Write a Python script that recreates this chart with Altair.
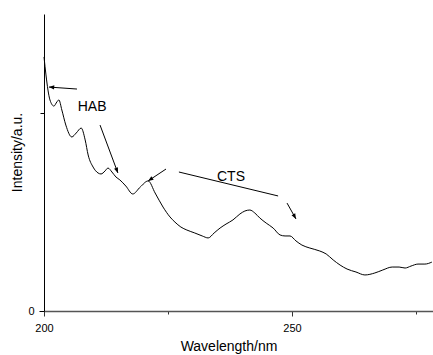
import altair as alt
import pandas as pd

# Spectrum
wavelength = [200.0, 200.4, 200.8, 201.2, 202.0, 202.6, 203.0, 203.6, 204.4, 205.6,
              206.5, 207.5, 208.3, 208.9, 209.9, 210.9, 211.5, 212.3, 212.9, 213.7,
              214.5, 215.3, 216.5, 217.9, 219.4, 221.0, 222.4, 224.0, 225.4, 226.4,
              227.6, 228.8, 230.4, 231.9, 233.1, 234.3, 235.5, 236.7, 238.1, 239.5,
              240.5, 241.5, 242.5, 243.5, 244.8, 246.2, 247.6, 248.6, 249.6, 250.8,
              252.0, 253.6, 255.6, 256.9, 258.3, 259.7, 261.1, 262.9, 264.7, 266.7,
              268.3, 270.2, 271.6, 272.8, 274.0, 275.4, 276.8, 278.2]
intensity = [1.283, 1.192, 1.116, 1.066, 1.035, 1.056, 1.066, 1.015, 0.939, 0.879,
             0.899, 0.924, 0.864, 0.788, 0.727, 0.697, 0.692, 0.707, 0.722, 0.702,
             0.677, 0.662, 0.631, 0.591, 0.626, 0.657, 0.596, 0.525, 0.475, 0.449,
             0.424, 0.409, 0.394, 0.379, 0.369, 0.394, 0.419, 0.439, 0.460, 0.490,
             0.505, 0.510, 0.495, 0.470, 0.444, 0.419, 0.384, 0.379, 0.379, 0.354,
             0.333, 0.318, 0.303, 0.288, 0.258, 0.232, 0.212, 0.197, 0.182, 0.192,
             0.207, 0.222, 0.222, 0.217, 0.227, 0.237, 0.237, 0.247]

# Annotation segments (tail -> head) and whether they carry an arrowhead
seg_x1 = [206.65, 211.3, 224.6, 227.2, 249.0]
seg_y1 = [1.121, 0.939, 0.717, 0.702, 0.545]
seg_x2 = [201.0, 214.9, 221.0, 247.2, 250.8]
seg_y2 = [1.131, 0.697, 0.657, 0.581, 0.465]
head_angle = [274, 159, 236, 0, 151]
has_head = [True, True, True, False, True]

label_text = ["HAB", "CTS"]
label_x = [209.7, 237.7]
label_y = [1.030, 0.677]

x_ticks = [200, 225, 250, 275]
y_ticks = [0, 1]

FONT = "Liberation Sans"

spec = pd.DataFrame({"wavelength": wavelength, "intensity": intensity})
segs = pd.DataFrame({"x1": seg_x1, "y1": seg_y1, "x2": seg_x2, "y2": seg_y2,
                     "angle": head_angle, "head": has_head})
heads = segs[segs["head"]]
labels = pd.DataFrame({"text": label_text, "x": label_x, "y": label_y})

xscale = alt.Scale(domain=[200, 278.43], nice=False, zero=False)
yscale = alt.Scale(domain=[0, 1.5], nice=False)

xaxis = alt.Axis(
    title="Wavelength/nm", values=x_ticks, grid=False, labelFlush=False,
    labelExpr="datum.value % 50 == 0 ? datum.label : ''",
    tickSize={"condition": {"test": "datum.value % 50 == 0", "value": 5}, "value": 3},
    domainColor="#555555", domainWidth=1.5, tickColor="#333333",
    labelFont=FONT, labelFontSize=11, labelColor="black", labelPadding=6,
    titleFont=FONT, titleFontSize=14, titleFontWeight="normal", titleColor="black",
    titlePadding=6, titleX=184.5,
)
yaxis = alt.Axis(
    title="Intensity/a.u.", values=y_ticks, grid=False, labelFlush=False,
    labelExpr="datum.value == 0 ? '0' : ''",
    tickSize={"condition": {"test": "datum.value == 0", "value": 5}, "value": 4},
    domainColor="black", domainWidth=1, tickColor="black",
    labelFont=FONT, labelFontSize=11, labelColor="black", labelPadding=5,
    titleFont=FONT, titleFontSize=14, titleFontWeight="normal", titleColor="black",
    titlePadding=3, titleY=138,
)

line = alt.Chart(spec).mark_line(color="black", strokeWidth=1, interpolate="monotone").encode(
    x=alt.X("wavelength:Q", scale=xscale, axis=xaxis),
    y=alt.Y("intensity:Q", scale=yscale, axis=yaxis),
)

rules = alt.Chart(segs).mark_rule(color="black", strokeWidth=1).encode(
    x=alt.X("x1:Q", scale=xscale), y=alt.Y("y1:Q", scale=yscale),
    x2="x2:Q", y2="y2:Q",
)

arrowheads = alt.Chart(heads).mark_point(
    shape="M0,0 L0.4,1 L-0.4,1 Z", filled=True, color="black", opacity=1, size=110,
).encode(
    x=alt.X("x2:Q", scale=xscale), y=alt.Y("y2:Q", scale=yscale),
    angle=alt.Angle("angle:Q", scale=None),
)

texts = alt.Chart(labels).mark_text(
    font=FONT, fontSize=14, color="black", align="center", baseline="middle",
).encode(
    x=alt.X("x:Q", scale=xscale), y=alt.Y("y:Q", scale=yscale), text="text:N",
)

chart = alt.layer(line, rules, arrowheads, texts).properties(
    width=389, height=297,
    padding={"left": 44, "top": 14, "right": 0, "bottom": 44},
    autosize="none",
).configure(background="white").configure_view(strokeWidth=0, stroke="transparent")

chart.save("out.html", embed_options={"renderer": "svg", "actions": False})
